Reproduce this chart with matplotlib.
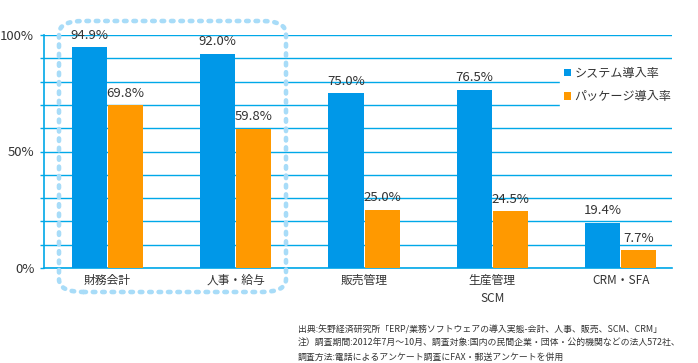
import matplotlib.pyplot as plt
from matplotlib.patches import FancyBboxPatch
import numpy as np

plt.rcParams['font.family'] = ['Noto Sans CJK JP', 'DejaVu Sans']

# データ
categories = ['財務会計', '人事・給与', '販売管理', '生産管理\nSCM', 'CRM・SFA']
system_rate = [94.9, 92.0, 75.0, 76.5, 19.4]
package_rate = [69.8, 59.8, 25.0, 24.5, 7.7]
series_names = ['システム導入率', 'パッケージ導入率']
notes = [
    '出典:矢野経済研究所「ERP/業務ソフトウェアの導入実態-会計、人事、販売、SCM、CRM」',
    '注）調査期間:2012年7月～10月、調査対象:国内の民間企業・団体・公的機関などの法人572社、',
    '調査方法:電話によるアンケート調査にFAX・郵送アンケートを併用',
]

blue = '#0098e8'
orange = '#ff9900'
line_c = '#00a8e8'
txt_c = '#333333'

fig = plt.figure(figsize=(6.98, 3.63), dpi=100)
ax = fig.add_axes([44/698, 1-268/363, 628/698, 233/363])

x = np.arange(len(categories))
w = 0.274
b1 = ax.bar(x - w/2 - 0.004, system_rate, w, color=blue, label=series_names[0], zorder=3)
b2 = ax.bar(x + w/2 + 0.004, package_rate, w, color=orange, label=series_names[1], zorder=3)

for bars, vals in ((b1, system_rate), (b2, package_rate)):
    for r, v in zip(bars, vals):
        ax.text(r.get_x() + r.get_width()/2, v + 2.3, f'{v:.1f}%',
                ha='center', va='bottom', fontsize=9.5, color=txt_c, zorder=4)

ax.set_xlim(-0.495, 4.40)
ax.set_ylim(0, 100)
ax.set_yticks(np.arange(0, 101, 10))
ax.set_yticklabels([f'{t}%' if t % 50 == 0 else '' for t in range(0, 101, 10)],
                   fontsize=9.5, color=txt_c)
ax.set_xticks(x)
ax.set_xticklabels(categories, fontsize=8.5, color=txt_c, linespacing=1.5)
ax.tick_params(axis='x', length=0, pad=4)
ax.tick_params(axis='y', length=3, width=1, color=line_c, pad=4)
ax.grid(axis='y', color=line_c, linewidth=1, zorder=0)
for s in ['top', 'right']:
    ax.spines[s].set_visible(False)
ax.spines['left'].set_color(line_c)
ax.spines['bottom'].set_color(line_c)
ax.spines['left'].set_linewidth(1.2)
ax.spines['bottom'].set_linewidth(1.2)

leg = ax.legend(loc='upper left', bbox_to_anchor=(0.812, 0.905), frameon=True,
                fontsize=8.7, handlelength=0.6, handleheight=0.6,
                handletextpad=0.3, labelspacing=0.85, borderpad=0.3)
leg.get_frame().set_edgecolor('white')
leg.get_frame().set_facecolor('white')
leg.get_frame().set_alpha(1)
leg.get_frame().set_boxstyle('square', pad=0)
for t in leg.get_texts():
    t.set_color(txt_c)

# 点線の囲み
box = FancyBboxPatch((59/698, 1-292/363), 227/698, 271/363,
                     boxstyle='round,pad=0,rounding_size=0.035',
                     transform=fig.transFigure, fill=False,
                     edgecolor='#a8dcf8', linewidth=3.3,
                     linestyle=(0, (0.55, 1.5)), capstyle='round', zorder=10)
fig.patches.append(box)

for i, n in enumerate(notes):
    fig.text(298/698, 1-(330 + i*13.5)/363, n, fontsize=6.4, color=txt_c, va='center')

fig.savefig('out.png', dpi=100)
